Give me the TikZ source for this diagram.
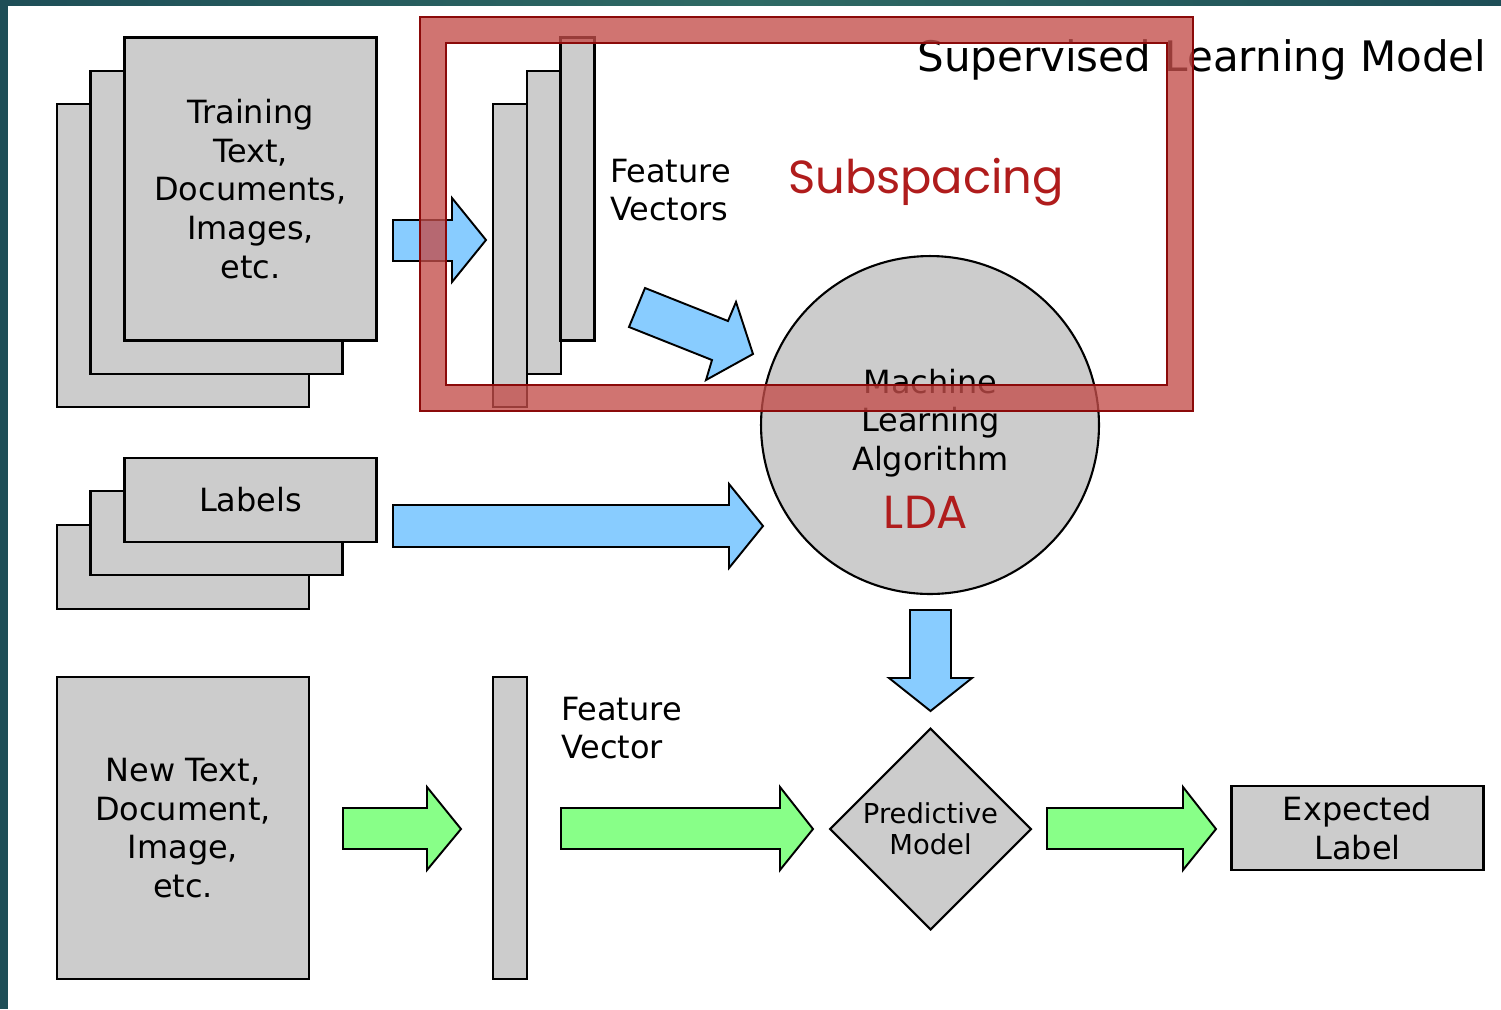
\documentclass[tikz,border=0pt]{standalone}
\usepackage{fontspec}
\setmainfont{DejaVu Sans}
\newfontfamily\geofont{Poppins}
\usetikzlibrary{shapes.geometric}
\definecolor{boxgray}{HTML}{CCCCCC}
\definecolor{skyblue}{HTML}{88CCFF}
\definecolor{lgreen}{HTML}{88FF88}
\definecolor{redtext}{HTML}{B01C1C}
\definecolor{framered}{HTML}{C44D4A}
\definecolor{frameedge}{HTML}{8B0A0A}
\definecolor{tealA}{HTML}{1E4E57}
\definecolor{tealB}{HTML}{2E6A64}
\begin{document}
\begin{tikzpicture}[x=0.02cm,y=-0.02cm,
  box/.style={draw=black, fill=boxgray, line width=1.2pt, inner sep=0pt, outer sep=0pt, align=center, font=\fontsize{18.2}{22}\selectfont},
  bigbox/.style={box, minimum width=5.04cm, minimum height=6.06cm},
  smallbox/.style={box, minimum width=5.04cm, minimum height=1.68cm},
  barbox/.style={box, minimum width=0.68cm, minimum height=6.06cm},
  blockarrow/.style={draw=black, line width=1.1pt, line join=miter},
  bluearrow/.style={blockarrow, fill=skyblue},
  greenarrow/.style={blockarrow, fill=lgreen},
  txt/.style={inner sep=0pt, outer sep=0pt, font=\fontsize{18.2}{22}\selectfont},
  redlabel/.style={inner sep=0pt, text=redtext, font=\geofont\fontsize{26.4}{30}\selectfont}
]
\useasboundingbox (0,0) rectangle (1501,1009);
\fill[white] (0,0) rectangle (1501,1009);

% training stack
\node[bigbox] (tr3) at (183,255.5) {};
\node[bigbox] (tr2) at (216.5,222.5) {};
\node[bigbox] (tr1) at (250.5,189) {Training\\Text,\\Documents,\\Images,\\etc.};

% labels stack
\node[smallbox] (lb3) at (183,567) {};
\node[smallbox] (lb2) at (216.5,533) {};
\node[smallbox] (lb1) at (250.5,500) {Labels};

% new text
\node[bigbox, minimum height=6.04cm] (nt) at (183,828) {New Text,\\Document,\\Image,\\etc.};

% feature vector bars
\node[barbox] (fv3) at (510,255.5) {};
\node[barbox] (fv2) at (544,222.5) {};
\node[barbox] (fv1) at (577.5,189) {};
\node[barbox, minimum height=6.04cm] (fv) at (510,828) {};

\node[txt, anchor=west, align=left] (fvtext) at (610,190) {Feature\\Vectors};
\node[txt, anchor=west, align=left] (fvstext) at (561,728) {Feature\\Vector};

% machine learning algorithm
\node[box, circle, minimum size=6.76cm] (mla) at (930,425) {};
\node[txt, align=center] (mlatext) at (930.5,423) {Machine\\Learning\\Algorithm};
\node[redlabel, anchor=base] (lda) at (926,528) {LDA};

% predictive model
\node[box, diamond, aspect=1, minimum width=4.02cm, minimum height=4.02cm, font=\fontsize{15.6}{17.6}\selectfont] (pm) at (930.5,829) {Predictive\\Model};

% expected label
\node[smallbox] (el) at (1357.5,828) {Expected\\Label};

% blue arrows
\draw[bluearrow] (393,220) -- (452,220) -- (452,198) -- (486,240) -- (452,282) -- (452,261) -- (393,261) -- cycle;
\draw[bluearrow] (645,288) -- (728,321) -- (736,302) -- (753,354) -- (706,380) -- (712,360) -- (629,327) -- cycle;
\draw[bluearrow] (393,505) -- (729,505) -- (729,484) -- (763,526) -- (729,568) -- (729,547) -- (393,547) -- cycle;
\draw[bluearrow] (910,610) -- (951,610) -- (951,678) -- (972,678) -- (930.5,711) -- (889,678) -- (910,678) -- cycle;

% green arrows
\draw[greenarrow] (343,808) -- (427,808) -- (427,787) -- (461,829) -- (427,870) -- (427,849) -- (343,849) -- cycle;
\draw[greenarrow] (561,808) -- (780,808) -- (780,787) -- (813,829) -- (780,870) -- (780,849) -- (561,849) -- cycle;
\draw[greenarrow] (1047,808) -- (1183,808) -- (1183,787) -- (1216,829) -- (1183,870) -- (1183,849) -- (1047,849) -- cycle;

% titles
\node[inner sep=0pt, anchor=base west, font=\fontsize{23.9}{28}\selectfont] (title) at (917,71) {Supervised Learning Model};
\node[redlabel, anchor=base] (sub) at (926,193) {Subspacing};

% red frame overlay
\fill[framered, opacity=0.78, even odd rule] (420,17) rectangle (1193,411) (446,43) rectangle (1167,385);
\draw[frameedge, line width=1.2pt] (420,17) rectangle (1193,411) (446,43) rectangle (1167,385);

% teal border
\shade[left color=tealA, right color=tealA, middle color=tealB] (0,0) rectangle (1501,5);
\fill[tealA] (0,0) rectangle (8,1009);
\end{tikzpicture}
\end{document}
